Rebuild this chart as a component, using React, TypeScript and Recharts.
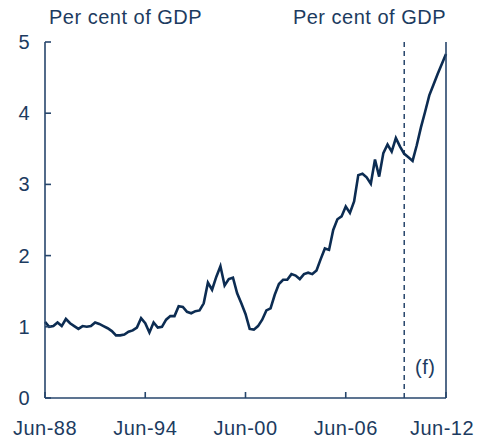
import React from "react"
import { LineChart, Line, XAxis, YAxis, ReferenceLine } from "recharts"

const NAVY = "#0c2c52"
const AXIS = "#27466c"
const TEXT = "#1c3b60"
const FONT = "'Liberation Sans', Arial, Helvetica, sans-serif"

// quarterly, Jun-88 .. Jun-12 (forecast from Jun-10)
const values = [
  1.07, 1.0, 1.01, 1.06, 1.01, 1.11, 1.05, 1.01, 0.97, 1.01,
  1.0, 1.01, 1.06, 1.04, 1.01, 0.98, 0.94, 0.88, 0.88, 0.89,
  0.93, 0.95, 0.99, 1.12, 1.05, 0.92, 1.06, 0.99, 1.0, 1.1,
  1.15, 1.15, 1.29, 1.28, 1.21, 1.19, 1.22, 1.23, 1.33, 1.62,
  1.52, 1.7, 1.85, 1.58, 1.67, 1.69, 1.47, 1.33, 1.18, 0.97,
  0.96, 1.01, 1.1, 1.23, 1.26, 1.45, 1.6, 1.66, 1.66, 1.74,
  1.72, 1.67, 1.74, 1.76, 1.74, 1.79, 1.95, 2.1, 2.08, 2.36,
  2.51, 2.55, 2.69, 2.6, 2.76, 3.13, 3.15, 3.1, 3.01, 3.35,
  3.11, 3.44, 3.56, 3.46, 3.65, 3.53, 3.43, 3.38, 3.33, 3.55,
  3.8, 4.02, 4.25, 4.4, 4.55, 4.69, 4.83,
]

const months = ["Jun", "Sep", "Dec", "Mar"]
const quarters = values.map((_, i) => {
  const yr = (88 + Math.floor((i + 1) / 4)) % 100
  return `${months[i % 4]}-${String(yr).padStart(2, "0")}`
})

const xTicks = [0, 24, 48, 72, 96]
const yTicks = [0, 1, 2, 3, 4, 5]
const forecastStart = "Dec-09"

const data = values.map((v, i) => ({ t: i, date: quarters[i], debt: v }))
const forecastIdx = quarters.indexOf(forecastStart)

const textStyle = { fontFamily: FONT, fontSize: 20, fill: TEXT, letterSpacing: 0.5 }

const LeftTick = (props: any) => {
  const { x, y, payload } = props
  return (
    <g>
      <line x1={x} y1={y} x2={x + 6} y2={y} stroke={AXIS} strokeWidth={1.6} />
      <text x={x - 15} y={y + 7} textAnchor="end" style={textStyle}>
        {payload.value}
      </text>
    </g>
  )
}

const RightTick = (props: any) => {
  const { x, y, payload } = props
  return (
    <g>
      <line x1={x} y1={y} x2={x - 6} y2={y} stroke={AXIS} strokeWidth={1.6} />
      <text x={x + 14} y={y + 7} textAnchor="start" style={textStyle}>
        {payload.value}
      </text>
    </g>
  )
}

const BottomTick = (props: any) => {
  const { x, y, payload } = props
  const last = payload.value === xTicks[xTicks.length - 1]
  return (
    <g>
      <line x1={x} y1={y} x2={x} y2={y - 6} stroke={AXIS} strokeWidth={1.6} />
      <text x={last ? x - 4 : x} y={y + 37} textAnchor="middle" style={textStyle}>
        {quarters[payload.value]}
      </text>
    </g>
  )
}

const labelStyle: React.CSSProperties = {
  position: "absolute",
  fontFamily: FONT,
  fontSize: 20,
  letterSpacing: 0.5,
  color: TEXT,
  whiteSpace: "nowrap",
  lineHeight: "22px",
}

export default function App() {
  return (
    <div style={{ position: "absolute", left: 0, top: 0, width: 478, height: 441, background: "#fff" }}>
      <LineChart width={478} height={441} data={data} margin={{ top: 42, right: 31, bottom: 42, left: 44 }}>
        <XAxis
          dataKey="t"
          type="number"
          domain={[0, 96]}
          ticks={xTicks}
          interval={0}
          height={1}
          tickSize={0}
          tickMargin={0}
          tickLine={false}
          axisLine={{ stroke: AXIS, strokeWidth: 1.6 }}
          tick={<BottomTick />}
        />
        <YAxis
          yAxisId="left"
          domain={[0, 5]}
          ticks={yTicks}
          interval={0}
          width={1}
          tickSize={0}
          tickMargin={0}
          tickLine={false}
          axisLine={{ stroke: AXIS, strokeWidth: 1.6 }}
          tick={<LeftTick />}
        />
        <YAxis
          yAxisId="right"
          orientation="right"
          domain={[0, 5]}
          ticks={yTicks}
          interval={0}
          width={1}
          tickSize={0}
          tickMargin={0}
          tickLine={false}
          axisLine={{ stroke: AXIS, strokeWidth: 1.6 }}
          tick={<RightTick />}
        />
        <ReferenceLine
          yAxisId="left"
          x={forecastIdx}
          stroke={AXIS}
          strokeWidth={1.5}
          strokeDasharray="5 4"
        />
        <Line
          yAxisId="left"
          type="linear"
          dataKey="debt"
          stroke={NAVY}
          strokeWidth={2.6}
          dot={false}
          isAnimationActive={false}
        />
      </LineChart>
      <div style={{ ...labelStyle, left: 49, top: 6 }}>Per cent of GDP</div>
      <div style={{ ...labelStyle, right: 32, top: 6 }}>Per cent of GDP</div>
      <div style={{ ...labelStyle, left: 415, top: 356 }}>(f)</div>
    </div>
  )
}
